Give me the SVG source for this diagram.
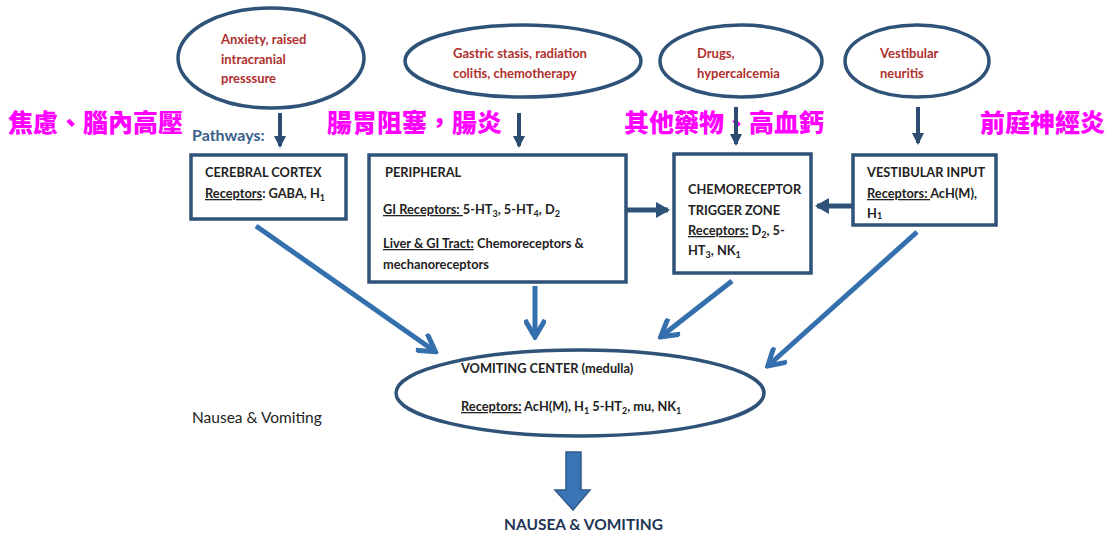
<svg xmlns="http://www.w3.org/2000/svg" width="1110" height="533" viewBox="0 0 1110 533">
<style>
.sh{fill:#fff;stroke:#2f5279;stroke-width:3.5}
.cause{font-family:Lato,"Liberation Sans",sans-serif;font-weight:bold;font-size:13px;fill:#b0302e}
.t{font-family:Lato,"Liberation Sans",sans-serif;font-weight:bold;font-size:12.8px;fill:#222}
.u{text-decoration:underline}
.cjk{font-family:"Noto Sans CJK TC","Noto Sans CJK SC",sans-serif;font-weight:900;font-size:25px;fill:#ff00ff}
.thin{stroke:#2c4c72;stroke-width:4;fill:none}
.thick{stroke:#3470ad;stroke-width:5;fill:none}
</style>
<defs>
<marker id="ah" markerUnits="userSpaceOnUse" markerWidth="14" markerHeight="14" refX="10" refY="7" orient="auto" viewBox="0 0 14 14">
<path d="M0,1 L12,7 L0,13 Z" fill="#2c4c72"/>
</marker>
<marker id="ah2" markerUnits="userSpaceOnUse" markerWidth="22" markerHeight="22" refX="16" refY="11" orient="auto" viewBox="0 0 22 22">
<path d="M2,1 L19,11 L2,21" fill="none" stroke="#3470ad" stroke-width="5" stroke-linejoin="miter"/>
</marker>
<marker id="ah3" markerUnits="userSpaceOnUse" markerWidth="16" markerHeight="18" refX="12" refY="9" orient="auto" viewBox="0 0 16 18">
<path d="M0,1 L14,9 L0,17 Z" fill="#2f5279"/>
</marker>
</defs>
<rect width="1110" height="533" fill="#fff"/>

<g id="cause-anxiety">
<ellipse class="sh" cx="271" cy="58" rx="93" ry="50"/>
<text class="cause" x="221" y="44">Anxiety, raised</text>
<text class="cause" x="221" y="64">intracranial</text>
<text class="cause" x="221" y="83">presssure</text>
</g>
<g id="cause-gastric">
<ellipse class="sh" cx="523" cy="61" rx="118" ry="36"/>
<text class="cause" x="453" y="58">Gastric stasis, radiation</text>
<text class="cause" x="453" y="78">colitis, chemotherapy</text>
</g>
<g id="cause-drugs">
<ellipse class="sh" cx="741" cy="61" rx="81" ry="36"/>
<text class="cause" x="697" y="58">Drugs,</text>
<text class="cause" x="697" y="78">hypercalcemia</text>
</g>
<g id="cause-vestibular">
<ellipse class="sh" cx="917" cy="61" rx="72" ry="36"/>
<text class="cause" x="880" y="58">Vestibular</text>
<text class="cause" x="880" y="78">neuritis</text>
</g>

<g id="labels-cjk">
<text class="cjk" x="8" y="132">焦慮、腦內高壓</text>
<text class="cjk" x="327" y="132">腸胃阻塞，腸炎</text>
<text class="cjk" x="624" y="132">其他藥物、高血鈣</text>
<text class="cjk" x="980" y="132">前庭神經炎</text>
</g>

<g id="pathways-label">
<text x="192" y="141" style="font-family:Lato,'Liberation Sans',sans-serif;font-weight:bold;font-size:16px;fill:#3a5f8a">Pathways:</text>
</g>

<g id="node-cortex">
<rect class="sh" x="191" y="155" width="155" height="64"/>
<text class="t" x="205" y="177">CEREBRAL CORTEX</text>
<text class="t" x="205" y="198"><tspan class="u">Receptors</tspan>: GABA, H<tspan font-size="9" dy="3">1</tspan></text>
</g>
<g id="node-peripheral">
<rect class="sh" x="369" y="155" width="257" height="127"/>
<text class="t" x="385" y="177">PERIPHERAL</text>
<text class="t" x="383" y="214"><tspan class="u">GI Receptors: </tspan>5-HT<tspan font-size="9" dy="3">3</tspan><tspan dy="-3">, 5-HT</tspan><tspan font-size="9" dy="3">4</tspan><tspan dy="-3">, D</tspan><tspan font-size="9" dy="3">2</tspan></text>
<text class="t" x="383" y="248"><tspan class="u">Liver &amp; GI Tract:</tspan> Chemoreceptors &amp;</text>
<text class="t" x="383" y="269">mechanoreceptors</text>
</g>
<g id="node-ctz">
<rect class="sh" x="674" y="154" width="137" height="119"/>
<text class="t" x="688" y="194">CHEMORECEPTOR</text>
<text class="t" x="688" y="215">TRIGGER ZONE</text>
<text class="t" x="688" y="235"><tspan class="u">Receptors:</tspan> D<tspan font-size="9" dy="3">2</tspan><tspan dy="-3">, 5-</tspan></text>
<text class="t" x="688" y="255">HT<tspan font-size="9" dy="3">3</tspan><tspan dy="-3">, NK</tspan><tspan font-size="9" dy="3">1</tspan></text>
</g>
<g id="node-vestibular">
<rect class="sh" x="853" y="155" width="143" height="70"/>
<text class="t" x="867" y="177">VESTIBULAR INPUT</text>
<text class="t" x="867" y="198"><tspan class="u">Receptors: </tspan>AcH(M),</text>
<text class="t" x="867" y="218">H<tspan font-size="9" dy="1">1</tspan></text>
</g>

<g id="node-vomiting-center">
<ellipse class="sh" cx="580" cy="393" rx="184" ry="43"/>
<text class="t" x="461" y="373">VOMITING CENTER (medulla)</text>
<text class="t" x="461" y="411"><tspan class="u">Receptors:</tspan> AcH(M), H<tspan font-size="9" dy="3">1</tspan><tspan dy="-3"> 5-HT</tspan><tspan font-size="9" dy="3">2</tspan><tspan dy="-3">, mu, NK</tspan><tspan font-size="9" dy="3">1</tspan></text>
</g>

<g id="side-label">
<text x="192" y="423" style="font-family:Lato,'Liberation Sans',sans-serif;font-size:15.5px;fill:#222">Nausea &amp; Vomiting</text>
</g>

<g id="connectors">
<line class="thin" x1="280" y1="113" x2="280" y2="146" marker-end="url(#ah)"/>
<line class="thin" x1="519" y1="113" x2="519" y2="146" marker-end="url(#ah)"/>
<line class="thin" x1="736" y1="107" x2="736" y2="144" marker-end="url(#ah)"/>
<line class="thin" x1="918" y1="107" x2="918" y2="143" marker-end="url(#ah)"/>
<line x1="627" y1="210" x2="668" y2="210" stroke="#2f5279" stroke-width="5" marker-end="url(#ah3)"/>
<line x1="853" y1="206" x2="817" y2="206" stroke="#2f5279" stroke-width="5" marker-end="url(#ah3)"/>
<line class="thick" x1="256" y1="226" x2="433" y2="350" marker-end="url(#ah2)"/>
<line class="thick" x1="535" y1="286" x2="535" y2="334" marker-end="url(#ah2)"/>
<line class="thick" x1="732" y1="281" x2="663" y2="335" marker-end="url(#ah2)"/>
<line class="thick" x1="917" y1="232" x2="770" y2="364" marker-end="url(#ah2)"/>
<path d="M566,452 L581,452 L581,490 L590,490 L573,510 L555,490 L566,490 Z" fill="#3a74b5" stroke="#2f5a8e" stroke-width="1.5"/>
</g>

<g id="result">
<text x="504" y="530" style="font-family:Lato,'Liberation Sans',sans-serif;font-weight:bold;font-size:15.5px;fill:#1f3556">NAUSEA &amp; VOMITING</text>
</g>
</svg>
